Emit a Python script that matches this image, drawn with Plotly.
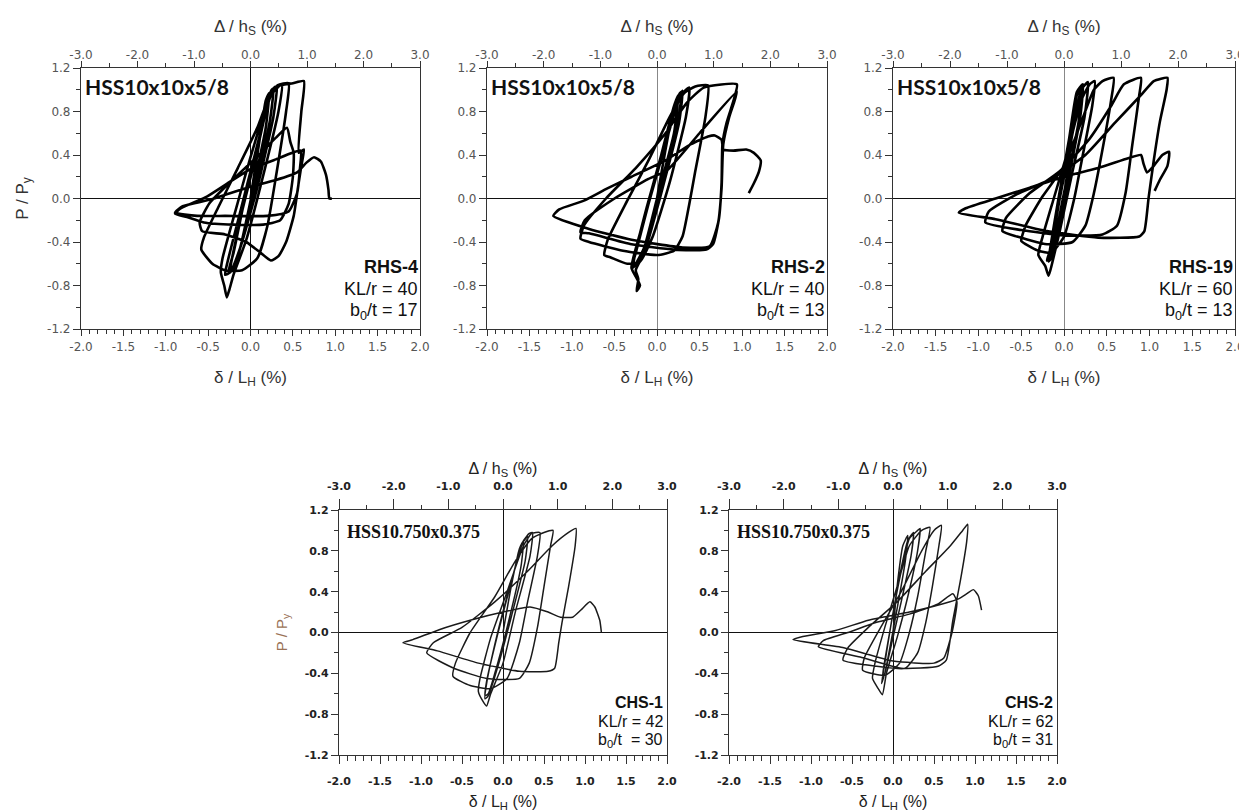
import plotly.graph_objects as go

# ---------------- data (drift delta/LH in %, load P/Py) ----------------
rhs4_x = [0.00, 0.10, 0.18, 0.22, 0.18, 0.02, -0.12, -0.20, -0.24,
          -0.21, -0.10, 0.05, 0.18, 0.25, 0.27, 0.23, 0.05, -0.10, -0.20, -0.26,
          -0.20, -0.08, 0.08, 0.22, 0.28, 0.31, 0.27, 0.08, -0.12, -0.24, -0.30,
          -0.27, -0.12, 0.05, 0.24, 0.32, 0.37, 0.33, 0.14, -0.05, -0.20, -0.25, -0.28, -0.31, -0.35,
          -0.33, -0.18, 0.00, 0.20, 0.32, 0.45, 0.42, 0.30, 0.20, 0.08, -0.10, -0.30, -0.45, -0.58,
          -0.55, -0.38, -0.15, 0.08, 0.22, 0.35, 0.50, 0.63, 0.60, 0.57, 0.63, 0.60, 0.56, 0.51, 0.42, 0.33, 0.24, 0.12, -0.05, -0.30, -0.57, -0.60,
          -0.48, -0.20, 0.10, 0.30, 0.43, 0.47, 0.51, 0.50, 0.45, 0.35, 0.15, -0.20, -0.55, -0.75, -0.89,
          -0.82, -0.51, -0.25, 0.00, 0.30, 0.59, 0.58, 0.55, 0.45, 0.20, -0.30, -0.63, -0.89,
          -0.80, -0.47, -0.04, 0.30, 0.55, 0.66, 0.75, 0.83, 0.89, 0.92, 0.93, 0.96]
rhs4_y = [0.00, 0.50, 0.90, 0.97, 0.65, 0.05, -0.45, -0.64, -0.66,
          -0.52, -0.12, 0.35, 0.85, 1.00, 1.01, 0.72, 0.08, -0.40, -0.62, -0.67,
          -0.50, -0.05, 0.45, 0.92, 1.02, 1.03, 0.75, 0.10, -0.45, -0.68, -0.70,
          -0.58, -0.12, 0.40, 0.95, 1.04, 1.05, 0.80, 0.18, -0.38, -0.70, -0.84, -0.91, -0.80, -0.68,
          -0.55, -0.12, 0.38, 0.88, 1.04, 1.06, 0.80, 0.20, -0.25, -0.55, -0.66, -0.66, -0.60, -0.47,
          -0.36, -0.08, 0.28, 0.65, 0.93, 1.04, 1.06, 1.08, 0.80, 0.42, 0.45, 0.30, 0.10, -0.16, -0.40, -0.53, -0.57, -0.50, -0.40, -0.33, -0.30, -0.22,
          -0.04, 0.18, 0.40, 0.56, 0.65, 0.52, 0.42, 0.20, -0.05, -0.20, -0.24, -0.24, -0.22, -0.17, -0.14,
          -0.09, 0.02, 0.15, 0.27, 0.36, 0.44, 0.25, 0.05, -0.12, -0.16, -0.16, -0.16, -0.13,
          -0.07, -0.01, 0.10, 0.17, 0.24, 0.33, 0.38, 0.34, 0.22, 0.08, 0.00, 0.00]

rhs2_x = [0.00, 0.10, 0.20, 0.25, 0.20, 0.00, -0.15, -0.25, -0.28,
          -0.26, -0.12, 0.05, 0.20, 0.27, 0.29, 0.24, 0.03, -0.15, -0.26, -0.30,
          -0.25, -0.10, 0.10, 0.25, 0.30, 0.26, 0.05, -0.15, -0.25, -0.22, -0.24, -0.20, -0.30,
          -0.28, -0.12, 0.08, 0.28, 0.38, 0.34, 0.15, -0.05, -0.20, -0.35, -0.55, -0.62,
          -0.58, -0.35, -0.10, 0.15, 0.32, 0.45, 0.60, 0.57, 0.45, 0.38, 0.30, 0.20, 0.00, -0.40, -0.80, -0.90,
          -0.86, -0.60, -0.25, 0.10, 0.35, 0.55, 0.94, 0.90, 0.82, 0.77, 0.76, 0.73, 0.66, 0.58, 0.20, -0.30, -0.80, -0.90,
          -0.85, -0.50, -0.10, 0.12, 0.50, 0.94, 0.85, 0.78, 0.76, 0.72, 0.62, 0.30, -0.30, -0.80, -1.22,
          -1.15, -0.86, -0.59, -0.30, 0.10, 0.40, 0.60, 0.68, 0.76, 0.78, 0.90, 1.05, 1.14, 1.22, 1.20, 1.14, 1.08]
rhs2_y = [0.00, 0.45, 0.85, 0.95, 0.60, 0.00, -0.45, -0.60, -0.62,
          -0.52, -0.08, 0.40, 0.85, 0.97, 0.98, 0.68, 0.03, -0.48, -0.62, -0.64,
          -0.50, -0.05, 0.50, 0.92, 0.99, 0.70, 0.05, -0.50, -0.66, -0.74, -0.85, -0.80, -0.64,
          -0.55, -0.10, 0.45, 0.95, 1.02, 0.75, 0.15, -0.35, -0.58, -0.60, -0.54, -0.52,
          -0.38, -0.02, 0.35, 0.75, 0.97, 1.03, 1.04, 0.75, 0.25, -0.05, -0.35, -0.48, -0.52, -0.48, -0.40, -0.37,
          -0.25, 0.00, 0.28, 0.60, 0.88, 1.02, 1.05, 0.90, 0.70, 0.50, 0.15, -0.18, -0.42, -0.47, -0.47, -0.42, -0.32, -0.31,
          -0.20, 0.00, 0.18, 0.26, 0.60, 0.98, 0.75, 0.50, 0.10, -0.22, -0.44, -0.45, -0.38, -0.28, -0.16,
          -0.10, -0.02, 0.09, 0.20, 0.35, 0.50, 0.57, 0.58, 0.54, 0.45, 0.44, 0.45, 0.42, 0.35, 0.25, 0.14, 0.05]

rhs19_x = [0.00, 0.08, 0.15, 0.20, 0.17, 0.00, -0.10, -0.15, -0.18,
           -0.16, -0.06, 0.06, 0.15, 0.22, 0.19, 0.03, -0.08, -0.16, -0.20,
           -0.15, -0.05, 0.10, 0.20, 0.28, 0.24, 0.10, -0.05, -0.14, -0.18, -0.22, -0.30,
           -0.25, -0.12, 0.05, 0.20, 0.30, 0.36, 0.33, 0.22, 0.12, 0.00, -0.15, -0.30, -0.45, -0.50,
           -0.45, -0.25, 0.00, 0.20, 0.35, 0.45, 0.58, 0.55, 0.45, 0.35, 0.25, 0.10, -0.20, -0.55, -0.72,
           -0.68, -0.40, -0.05, 0.30, 0.55, 0.70, 0.90, 0.88, 0.80, 0.72, 0.62, 0.45, 0.00, -0.50, -0.92,
           -0.88, -0.55, -0.15, 0.25, 0.60, 0.90, 1.05, 1.21, 1.20, 1.12, 1.05, 0.99, 0.94, 0.88, 0.40, -0.20, -0.80, -1.23,
           -1.15, -0.80, -0.40, 0.00, 0.40, 0.75, 0.90, 0.93, 0.97, 1.05, 1.15, 1.23, 1.21, 1.12, 1.06]
rhs19_y = [0.00, 0.50, 0.95, 1.03, 0.70, 0.05, -0.35, -0.55, -0.58,
           -0.45, 0.02, 0.55, 0.98, 1.05, 0.75, 0.10, -0.30, -0.55, -0.57,
           -0.45, 0.00, 0.60, 1.00, 1.07, 0.75, 0.25, -0.30, -0.60, -0.71, -0.62, -0.52,
           -0.35, 0.00, 0.45, 0.90, 1.05, 1.08, 0.85, 0.40, 0.00, -0.35, -0.50, -0.48, -0.42, -0.39,
           -0.25, 0.02, 0.30, 0.70, 1.00, 1.08, 1.11, 0.90, 0.45, 0.05, -0.25, -0.40, -0.42, -0.35, -0.30,
           -0.18, 0.05, 0.25, 0.55, 0.85, 1.05, 1.11, 0.95, 0.50, 0.05, -0.25, -0.33, -0.34, -0.29, -0.22,
           -0.12, 0.04, 0.18, 0.40, 0.70, 0.95, 1.08, 1.11, 1.00, 0.70, 0.35, 0.01, -0.30, -0.35, -0.36, -0.30, -0.19, -0.13,
           -0.09, 0.00, 0.10, 0.20, 0.28, 0.37, 0.40, 0.32, 0.24, 0.30, 0.40, 0.43, 0.30, 0.17, 0.07]

chs1_x = [0.00, 0.10, 0.20, 0.25, 0.22, 0.05, -0.10, -0.18, -0.22,
          -0.20, -0.06, 0.12, 0.24, 0.30, 0.27, 0.10, -0.05, -0.18, -0.22,
          -0.20, -0.08, 0.10, 0.25, 0.32, 0.36, 0.33, 0.15, 0.00, -0.15, -0.20, -0.24, -0.30,
          -0.28, -0.15, 0.05, 0.25, 0.35, 0.45, 0.42, 0.30, 0.20, 0.05, -0.15, -0.40, -0.61,
          -0.58, -0.40, -0.10, 0.15, 0.35, 0.50, 0.61, 0.58, 0.50, 0.42, 0.32, 0.20, -0.20, -0.60, -0.93,
          -0.85, -0.50, -0.10, 0.30, 0.60, 0.80, 0.89, 0.88, 0.80, 0.72, 0.68, 0.63, 0.55, 0.20, -0.30, -0.80, -1.22,
          -1.10, -0.77, -0.40, 0.00, 0.33, 0.55, 0.70, 0.85, 0.95, 1.06, 1.12, 1.18, 1.20]
chs1_y = [0.00, 0.45, 0.82, 0.90, 0.65, 0.05, -0.40, -0.60, -0.62,
          -0.48, 0.00, 0.55, 0.88, 0.94, 0.70, 0.15, -0.30, -0.62, -0.65,
          -0.50, -0.05, 0.50, 0.90, 0.97, 0.98, 0.75, 0.20, -0.30, -0.60, -0.72, -0.68, -0.58,
          -0.45, -0.05, 0.40, 0.85, 0.97, 0.98, 0.75, 0.30, -0.10, -0.45, -0.55, -0.52, -0.43,
          -0.30, 0.00, 0.35, 0.70, 0.92, 0.98, 1.00, 0.85, 0.45, 0.05, -0.30, -0.45, -0.45, -0.35, -0.20,
          -0.10, 0.05, 0.30, 0.60, 0.85, 0.98, 1.02, 0.85, 0.45, 0.10, -0.10, -0.35, -0.38, -0.38, -0.30, -0.18, -0.10,
          -0.07, 0.03, 0.12, 0.20, 0.25, 0.20, 0.15, 0.15, 0.22, 0.30, 0.25, 0.12, 0.00]

chs2_x = [0.00, 0.05, 0.12, 0.18, 0.15, 0.02, -0.05, -0.10, -0.13,
          -0.11, -0.03, 0.08, 0.18, 0.25, 0.22, 0.10, 0.00, -0.10, -0.14,
          -0.10, -0.02, 0.10, 0.20, 0.30, 0.33, 0.30, 0.18, 0.05, -0.08, -0.13, -0.18, -0.25,
          -0.22, -0.10, 0.05, 0.20, 0.35, 0.45, 0.40, 0.30, 0.20, 0.08, -0.10, -0.37,
          -0.35, -0.15, 0.10, 0.35, 0.50, 0.59, 0.56, 0.48, 0.40, 0.30, 0.15, -0.20, -0.61,
          -0.55, -0.30, 0.05, 0.40, 0.70, 0.85, 0.91, 0.90, 0.82, 0.73, 0.65, 0.55, 0.10, -0.40, -0.91,
          -0.85, -0.55, -0.20, 0.20, 0.55, 0.73, 0.78, 0.72, 0.62, 0.50, 0.00, -0.60, -1.22,
          -1.10, -0.70, -0.30, 0.20, 0.60, 0.80, 0.90, 0.98, 1.04, 1.08]
chs2_y = [0.00, 0.45, 0.85, 0.95, 0.70, 0.10, -0.20, -0.40, -0.45,
          -0.32, 0.05, 0.55, 0.90, 0.98, 0.75, 0.30, -0.05, -0.40, -0.50,
          -0.30, 0.10, 0.60, 0.92, 1.00, 1.02, 0.80, 0.35, -0.05, -0.40, -0.61, -0.55, -0.45,
          -0.30, 0.05, 0.45, 0.85, 1.00, 1.03, 0.80, 0.35, 0.00, -0.30, -0.42, -0.37,
          -0.25, 0.05, 0.40, 0.80, 1.00, 1.05, 0.85, 0.45, 0.10, -0.20, -0.35, -0.33, -0.27,
          -0.15, 0.05, 0.30, 0.60, 0.85, 1.00, 1.06, 0.90, 0.50, 0.12, -0.27, -0.33, -0.35, -0.24, -0.14,
          -0.08, 0.00, 0.10, 0.18, 0.28, 0.38, 0.30, 0.00, -0.25, -0.30, -0.28, -0.15, -0.07,
          -0.04, 0.02, 0.12, 0.20, 0.28, 0.33, 0.38, 0.42, 0.36, 0.22]

# tick values / labels
x_bottom_ticks = [-2.0, -1.5, -1.0, -0.5, 0.0, 0.5, 1.0, 1.5, 2.0]
x_bottom_labels = ["-2.0", "-1.5", "-1.0", "-0.5", "0.0", "0.5", "1.0", "1.5", "2.0"]
x_top_ticks = [-3.0, -2.0, -1.0, 0.0, 1.0, 2.0, 3.0]
x_top_labels = ["-3.0", "-2.0", "-1.0", "0.0", "1.0", "2.0", "3.0"]
y_ticks = [-1.2, -0.8, -0.4, 0.0, 0.4, 0.8, 1.2]
y_labels = ["-1.2", "-0.8", "-0.4", "0.0", "0.4", "0.8", "1.2"]

section_labels = ["HSS10x10x5/8", "HSS10x10x5/8", "HSS10x10x5/8", "HSS10.750x0.375", "HSS10.750x0.375"]
specimen_names = ["RHS-4", "RHS-2", "RHS-19", "CHS-1", "CHS-2"]
kl_r = [40, 40, 60, 42, 62]
b0_t = [17, 13, 13, 30, 31]
b0_t_sep = [" = ", " = ", " = ", "\u00a0\u00a0= ", " = "]
series_x = [rhs4_x, rhs2_x, rhs19_x, chs1_x, chs2_x]
series_y = [rhs4_y, rhs2_y, rhs19_y, chs1_y, chs2_y]

# ---------------- layout / styles ----------------
PAGE_W, PAGE_H = 1247, 812
OFF = 8                      # default body margin of the html page
W, H = PAGE_W - OFF, PAGE_H - OFF
panel_px = [  # left, right, top, bottom in page pixels
    (81, 420, 68, 329),
    (487, 827, 68, 329),
    (893, 1235, 68, 329),
    (339, 667, 510, 755),
    (729, 1057, 510, 755),
]
top_row = [True, True, True, False, False]
vzero_color = ["#111", "#888", "#888", "#111", "#111"]
vzero_width = [1.3, 0.8, 0.8, 1.3, 1.3]

fig = go.Figure()
layout = dict(
    width=W, height=H,
    margin=dict(l=0, r=0, t=0, b=0, autoexpand=False),
    paper_bgcolor="white", plot_bgcolor="white",
    showlegend=False,
    annotations=[],
)

SANS = "Liberation Sans, Arial, sans-serif"
for i in range(5):
    n = i + 1
    l, r, t, b = panel_px[i]
    dx = [(l - OFF) / W, (r - OFF) / W]
    dy = [1 - (b - OFF) / H, 1 - (t - OFF) / H]
    big = top_row[i]
    xb = "x" if n == 1 else f"x{n}"
    yb = "y" if n == 1 else f"y{n}"
    xt = f"x{n + 5}"
    if big:
        tick_font = dict(family="DejaVu Sans, sans-serif", size=12, color="#555")
        title_font = dict(family=SANS, size=17, color="#333")
    else:
        tick_font = dict(family="DejaVu Sans, sans-serif", size=11, color="#222", weight="bold")
        title_font = dict(family=SANS, size=16, color="#222")
    axis_col = "#333"

    fig.add_trace(go.Scatter(
        x=series_x[i], y=series_y[i], mode="lines",
        line=dict(color="black" if big else "#1a1a1a", width=2.6 if big else 1.5,
                  shape="spline", smoothing=0.5),
        xaxis=xb, yaxis=yb, hoverinfo="skip", showlegend=False))
    fig.add_trace(go.Scatter(x=[], y=[], mode="lines", xaxis=xt, yaxis=yb,
                             hoverinfo="skip", showlegend=False))

    layout[f"xaxis{n}"] = dict(
        domain=dx, anchor=yb, range=[-2, 2], tickmode="array", automargin=False,
        tickvals=x_bottom_ticks, ticktext=x_bottom_labels,
        ticks="outside", ticklen=6 if big else 8, tickwidth=1, tickcolor=axis_col,
        ticklabelstandoff=0 if big else 8,
        minor=dict(tickmode="linear", tick0=-2, dtick=0.1, ticks="outside",
                   ticklen=4 if big else 5, tickwidth=1, tickcolor=axis_col),
        showline=True, linecolor=axis_col, linewidth=1.2, mirror=False,
        showgrid=False, zeroline=True, zerolinecolor=vzero_color[i],
        zerolinewidth=vzero_width[i], tickfont=tick_font,
        title=dict(text="δ / L<sub>H</sub> (%)", font=title_font, standoff=18 if big else 13),
    )
    layout[f"xaxis{n + 5}"] = dict(
        domain=dx, anchor=yb, overlaying=xb, side="top", range=[-3, 3], automargin=False,
        tickmode="array", tickvals=x_top_ticks, ticktext=x_top_labels,
        ticks="outside", ticklen=6 if big else 10, tickwidth=1, tickcolor=axis_col,
        ticklabelstandoff=-3 if big else 5,
        minor=dict(tickmode="linear", tick0=-3, dtick=0.5, ticks="outside",
                   ticklen=4, tickwidth=1, tickcolor=axis_col),
        showline=True, linecolor=axis_col, linewidth=1.2,
        showgrid=False, zeroline=False, tickfont=tick_font,
        title=dict(text="Δ / h<sub>S</sub> (%)", font=title_font, standoff=11 if big else 0),
    )
    ytitle = None
    if n == 1:
        ytitle = dict(text="P / P<sub>y</sub>", standoff=14,
                      font=dict(family=SANS, size=17, color="#333"))
    elif n == 4:
        ytitle = dict(text="P / P<sub>y</sub>", standoff=13,
                      font=dict(family=SANS, size=15, color="#9a7256"))
    layout[f"yaxis{n}"] = dict(
        domain=dy, anchor=xb, range=[-1.2, 1.2], tickmode="array", automargin=False,
        tickvals=y_ticks, ticktext=y_labels,
        ticks="outside", ticklen=7, tickwidth=1, tickcolor=axis_col,
        minor=dict(tickmode="linear", tick0=-1.2, dtick=0.2, ticks="outside",
                   ticklen=4, tickwidth=1, tickcolor=axis_col),
        showline=True, linecolor=axis_col, linewidth=1.2, mirror=True,
        showgrid=False, zeroline=True, zerolinecolor="#111", zerolinewidth=1.4,
        tickfont=tick_font,
        title=ytitle,
    )

    # section label (top-left)
    if big:
        sec_font = dict(family="Lato, Open Sans, sans-serif", size=21, color="#111")
        layout["annotations"].append(dict(
            text=f"<b>{section_labels[i]}</b>", xref=f"{xb} domain", yref=f"{yb} domain",
            x=0.0, y=(b - 86) / (b - t), xanchor="left", yanchor="middle", xshift=2,
            showarrow=False, font=sec_font))
    else:
        sec_font = dict(family="Liberation Serif, Times New Roman, serif", size=18, color="#111")
        layout["annotations"].append(dict(
            text=f"<b>{section_labels[i]}</b>", xref=f"{xb} domain", yref=f"{yb} domain",
            x=0.0, y=(b - 532) / (b - t), xanchor="left", yanchor="middle", xshift=6,
            showarrow=False, font=sec_font))

    # specimen block (bottom-right), one annotation per line
    if big:
        line_px = [267, 289, 311]
        fsz = 18
        xs = 0
    else:
        line_px = [702, 721, 740]
        fsz = 16
        xs = -2
    block = [f"<b>{specimen_names[i]}</b>", f"KL/r = {kl_r[i]}",
             f"b<sub>0</sub>/t{b0_t_sep[i]}{b0_t[i]}"]
    for txt, py in zip(block, line_px):
        layout["annotations"].append(dict(
            text=txt, xref=f"{xb} domain", yref=f"{yb} domain",
            x=1.0, y=(b - py) / (b - t), xanchor="right", yanchor="middle",
            xshift=xs, showarrow=False,
            font=dict(family=SANS, size=fsz, color="#111")))

fig.update_layout(**layout)
fig.write_html("out.html")
